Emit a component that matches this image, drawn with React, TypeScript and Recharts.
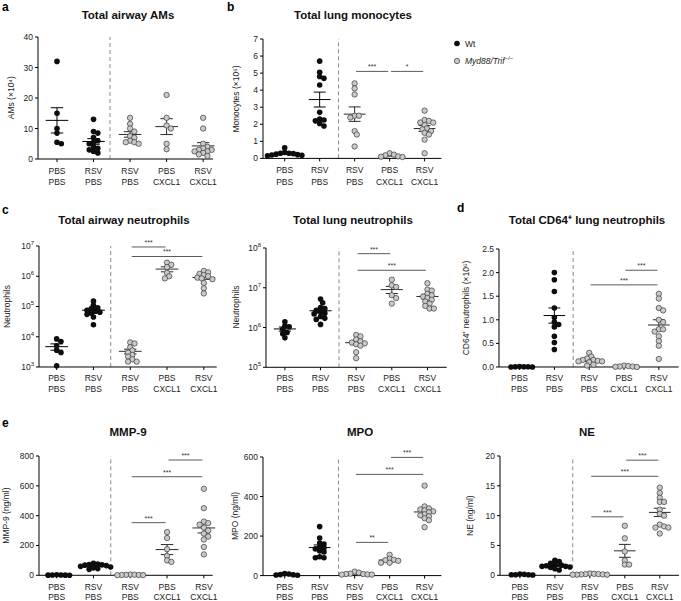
import React from 'react'
import { ScatterChart, Scatter, XAxis, YAxis, ReferenceLine } from 'recharts'

// x categories (two-line labels)
const treatmentTop = ['PBS', 'RSV', 'RSV', 'PBS', 'RSV']
const treatmentBottom = ['PBS', 'PBS', 'PBS', 'CXCL1', 'CXCL1']
// groups 0,1 are Wt, groups 2..4 are Myd88/Trif-/-
const wtCount = 2

const airwayAMs = [
  [32, 15, 10, 8.5, 5.5, 5],
  [13, 9, 8.5, 7, 6, 5.5, 5, 4, 3.5, 3, 2.5, 2],
  [13.5, 11.5, 10, 9, 7.5, 7, 6, 5.5, 5.5, 5],
  [21, 13.5, 11, 10, 5, 3.2],
  [13.5, 10, 5, 4, 3.5, 3, 3, 2.5, 2.5, 2, 1.5, 1],
]
const lungMonocytes = [
  [0.62, 0.35, 0.3, 0.3, 0.28, 0.25, 0.22, 0.2, 0.18, 0.15],
  [5.7, 5.05, 4.8, 4.7, 4.3, 2.7, 2.3, 2.25, 2.2, 2.05, 1.9],
  [4.4, 4.1, 3.75, 2.5, 2.5, 2.4, 1.6, 1.4, 0.7],
  [0.3, 0.22, 0.18, 0.12, 0.1, 0.08],
  [2.8, 2.25, 2.2, 2.1, 2.1, 1.95, 1.75, 1.7, 1.6, 1.5, 1.4, 1.1, 0.3],
]
const airwayNeutrophils = [
  [8500, 7000, 5000, 3600, 3000, 1100],
  [150000, 110000, 90000, 85000, 75000, 70000, 65000, 60000, 55000, 45000, 25000],
  [6500, 6000, 4500, 3500, 3000, 2500, 2200, 1800, 1500, 1500],
  [2.8e6, 2.4e6, 2e6, 1.3e6, 1e6, 0.85e6],
  [1.5e6, 1.35e6, 1.2e6, 1.1e6, 1e6, 0.9e6, 0.85e6, 0.8e6, 0.6e6, 0.4e6, 0.27e6],
]
const lungNeutrophils = [
  [1.4e6, 1.1e6, 1.05e6, 0.9e6, 0.75e6, 0.7e6, 0.55e6],
  [5.2e6, 4.2e6, 3.2e6, 3e6, 2.7e6, 2.5e6, 2.3e6, 2.2e6, 1.9e6, 1.7e6, 1.6e6, 1.2e6],
  [0.65e6, 0.6e6, 0.5e6, 0.45e6, 0.42e6, 0.4e6, 0.38e6, 0.35e6, 0.24e6, 0.17e6],
  [1.6e7, 1.15e7, 1.05e7, 6.5e6, 5.5e6, 4e6],
  [1.3e7, 9e6, 8.5e6, 7e6, 6.5e6, 6e6, 5.5e6, 5e6, 4.5e6, 4e6, 3.5e6, 3e6, 3e6],
]
const cd64Neutrophils = [
  [0.01, 0.005, 0.005, 0.005, 0, 0],
  [2.0, 1.85, 1.6, 1.25, 1.05, 0.95, 0.9, 0.85, 0.65, 0.52, 0.37],
  [0.3, 0.22, 0.18, 0.15, 0.15, 0.13, 0.12, 0.12, 0.1, 0.05, 0.03],
  [0.03, 0.02, 0.01, 0.01, 0.005, 0],
  [1.55, 1.45, 1.25, 1.2, 1.0, 0.95, 0.8, 0.8, 0.75, 0.65, 0.55, 0.45, 0.17],
]
const mmp9 = [
  [3, 2, 2, 1, 1, 0.5],
  [80, 75, 72, 70, 68, 65, 60, 55, 50, 45, 40],
  [5, 4, 3, 2, 2, 1.5, 1],
  [290, 250, 175, 130, 100, 90],
  [580, 450, 360, 350, 340, 320, 300, 280, 260, 240, 190, 140],
]
const mpo = [
  [10, 8, 5, 4, 3, 2],
  [248, 190, 165, 160, 145, 140, 135, 125, 120, 95, 90, 90],
  [20, 15, 10, 8, 8, 6, 5, 5],
  [105, 85, 80, 78, 75, 65, 65],
  [455, 350, 340, 335, 330, 325, 320, 310, 305, 300, 290, 280, 245],
]
const ne = [
  [0.2, 0.15, 0.1, 0.1, 0.1, 0.05],
  [2.5, 2.3, 2.0, 1.8, 1.7, 1.6, 1.5, 1.5, 1.4, 1.3, 1.1, 0.9],
  [0.3, 0.25, 0.2, 0.2, 0.15, 0.15, 0.1, 0.1, 0.1],
  [8.3, 6.2, 4.0, 2.5, 1.8, 1.8],
  [14.7, 13.8, 13.0, 12.3, 12.3, 11.0, 10.3, 10.0, 8.5, 8.2, 8.0, 8.0, 7.0],
]

// significance bars: [from group, to group, y, label]
type Sig = [number, number, number, string]
const sigMonocytes: Sig[] = [[2, 3, 5.1, '***'], [3, 4, 5.1, '*']]
const sigAirwayNeut: Sig[] = [[2, 3, 9.3e6, '***'], [2, 4, 4.5e6, '***']]
const sigLungNeut: Sig[] = [[2, 3, 7.2e7, '***'], [2, 4, 2.75e7, '***']]
const sigCd64: Sig[] = [[3, 4, 2.05, '***'], [2, 4, 1.74, '***']]
const sigMmp9: Sig[] = [[3, 4, 773, '***'], [2, 4, 661, '***'], [2, 3, 353, '***']]
const sigMpo: Sig[] = [[3, 4, 598, '***'], [2, 4, 512, '***'], [2, 3, 168, '**']]
const sigNe: Sig[] = [[3, 4, 19.3, '***'], [2, 4, 16.6, '***'], [2, 3, 9.8, '***']]

const FONT = '"Liberation Sans", Arial, Helvetica, sans-serif'
const GREY_FILL = '#c9c9c9'
const GREY_STROKE = '#3a3a3a'

type PanelCfg = {
  L: number; T: number; R: number; B: number
  xDomain: [number, number]
  yDomain: [number, number]
  yTicks: number[]
  log?: boolean
  fixed?: number
  groups: number[][]
  sig: Sig[]
  divider: number
  lab: [number, number] // baselines of the two category lines below the axis
}

function mean(v: number[]) {
  return v.reduce((a, b) => a + b, 0) / v.length
}
function sem(v: number[]) {
  const m = mean(v)
  const sd = Math.sqrt(v.reduce((a, b) => a + (b - m) * (b - m), 0) / (v.length - 1))
  return sd / Math.sqrt(v.length)
}

// simple beeswarm so points don't stack on top of each other
function swarm(values: number[], toPx: (v: number) => number, pxPerUnit: number, center: number) {
  const d = 3.9
  const order = values.map((_, i) => i).sort((a, b) => values[b] - values[a])
  const placed: { x: number; y: number }[] = []
  const out: { x: number; y: number }[] = new Array(values.length)
  for (const i of order) {
    const py = toPx(values[i])
    let off = 0
    for (let n = 0; n < 60; n++) {
      const o = n === 0 ? 0 : (n % 2 ? 1 : -1) * Math.ceil(n / 2) * d * 0.55
      if (placed.every(p => Math.hypot(p.x - o, p.y - py) >= d)) {
        off = o
        break
      }
    }
    placed.push({ x: off, y: py })
    out[i] = { x: center + off / pxPerUnit, y: values[i] }
  }
  return out
}

const CatTick = (props: any) => {
  const { x, y, payload, lab } = props
  const i = Math.round(payload.value)
  const base = y - 5
  return (
    <g>
      <text x={x} y={base + lab[0]} textAnchor="middle" fontSize={8.5} fill="#222" fontFamily={FONT}>
        {treatmentTop[i]}
      </text>
      <text x={x} y={base + lab[1]} textAnchor="middle" fontSize={8.5} fill="#222" fontFamily={FONT}>
        {treatmentBottom[i]}
      </text>
    </g>
  )
}

const LogTick = (props: any) => {
  const { x, y, payload } = props
  const e = Math.round(Math.log10(payload.value))
  return (
    <text x={x} y={y + 3} textAnchor="end" fontSize={8.5} fill="#222" fontFamily={FONT}>
      10<tspan dy={-4} fontSize={6}>{e}</tspan>
    </text>
  )
}

const YW = 40
const XH = 30
const MT = 14
const MR = 18

function Panel({ cfg }: { cfg: PanelCfg }) {
  const { L, T, R, B, xDomain, yDomain, log } = cfg
  const plotW = R - L
  const plotH = B - T
  const pxPerUnit = plotW / (xDomain[1] - xDomain[0])
  const toPx = (v: number) =>
    log
      ? ((Math.log10(v) - Math.log10(yDomain[0])) / (Math.log10(yDomain[1]) - Math.log10(yDomain[0]))) * plotH
      : ((v - yDomain[0]) / (yDomain[1] - yDomain[0])) * plotH

  const wtPts = cfg.groups.slice(0, wtCount).flatMap((g, i) => swarm(g, toPx, pxPerUnit, i))
  const koPts = cfg.groups.slice(wtCount).flatMap((g, i) => swarm(g, toPx, pxPerUnit, i + wtCount))
  const sigLabels = cfg.sig.map(s => ({ x: (s[0] + s[1]) / 2, y: s[2], label: s[3] }))

  const segs: { key: string; pts: { x: number; y: number }[]; color: string }[] = []
  cfg.groups.forEach((g, i) => {
    const m = mean(g)
    const s = sem(g)
    const color = i < wtCount ? '#000' : '#2a2a2a'
    segs.push({ key: `m${i}`, pts: [{ x: i - 0.31, y: m }, { x: i + 0.31, y: m }], color })
    segs.push({ key: `v${i}`, pts: [{ x: i, y: m - s }, { x: i, y: m + s }], color })
    segs.push({ key: `t${i}`, pts: [{ x: i - 0.17, y: m + s }, { x: i + 0.17, y: m + s }], color })
    segs.push({ key: `b${i}`, pts: [{ x: i - 0.17, y: m - s }, { x: i + 0.17, y: m - s }], color })
  })

  return (
    <div style={{ position: 'absolute', left: L - YW, top: T - MT }}>
      <ScatterChart
        width={plotW + YW + MR}
        height={plotH + MT + XH}
        margin={{ top: MT, right: MR, bottom: 0, left: 0 }}
      >
        <XAxis
          type="number"
          dataKey="x"
          domain={xDomain}
          ticks={[0, 1, 2, 3, 4]}
          interval={0}
          tick={<CatTick lab={cfg.lab} />}
          tickSize={3}
          height={XH}
          axisLine={{ stroke: '#000' }}
          tickLine={{ stroke: '#000' }}
        />
        <YAxis
          type="number"
          dataKey="y"
          domain={yDomain}
          ticks={cfg.yTicks}
          interval={0}
          scale={log ? 'log' : 'linear'}
          width={YW}
          tickSize={3}
          tick={log ? <LogTick /> : { fontSize: 8.5, fill: '#222', fontFamily: FONT }}
          tickFormatter={(v: number) => (cfg.fixed ? v.toFixed(cfg.fixed) : String(v))}
          axisLine={{ stroke: '#000' }}
          tickLine={{ stroke: '#000' }}
        />
        <ReferenceLine x={cfg.divider} stroke="#8a8a8a" strokeDasharray="4 3" />
        {cfg.sig.map((s, i) => (
          <ReferenceLine
            key={`sig${i}`}
            segment={[{ x: s[0] + 0.04, y: s[2] }, { x: s[1] - 0.04, y: s[2] }]}
            stroke="#5a5a5a"
            strokeWidth={1}
            ifOverflow="visible"
          />
        ))}
        <Scatter
          data={koPts}
          isAnimationActive={false}
          shape={(p: any) => (
            <circle cx={p.cx} cy={p.cy} r={2.7} fill={GREY_FILL} stroke={GREY_STROKE} strokeWidth={0.7} />
          )}
        />
        <Scatter
          data={wtPts}
          isAnimationActive={false}
          shape={(p: any) => <circle cx={p.cx} cy={p.cy} r={2.8} fill="#0d0d0d" />}
        />
        {segs.map(s => (
          <ReferenceLine key={s.key} segment={s.pts} stroke={s.color} strokeWidth={1} ifOverflow="visible" />
        ))}
        <Scatter
          data={sigLabels}
          isAnimationActive={false}
          shape={(p: any) => (
            <text x={p.cx} y={p.cy - 2} textAnchor="middle" fontSize={7} fill="#333" fontFamily={FONT}>
              {p.payload.label}
            </text>
          )}
        />
      </ScatterChart>
    </div>
  )
}

const topLab: [number, number] = [14.8, 26.3]
const midLab: [number, number] = [13.6, 24.6]
const botLab: [number, number] = [14.5, 24.4]

const panels: PanelCfg[] = [
  { L: 38, T: 36.7, R: 213, B: 158.7, xDomain: [-0.52, 4.27], yDomain: [0, 40], yTicks: [0, 10, 20, 30, 40], groups: airwayAMs, sig: [], divider: 1.45, lab: topLab },
  { L: 263.3, T: 39.3, R: 441.7, B: 158.7, xDomain: [-0.62, 4.48], yDomain: [0, 7], yTicks: [0, 1, 2, 3, 4, 5, 6, 7], groups: lungMonocytes, sig: sigMonocytes, divider: 1.54, lab: topLab },
  { L: 39.3, T: 246, R: 217, B: 367, xDomain: [-0.48, 4.35], yDomain: [1e3, 1e7], yTicks: [1e3, 1e4, 1e5, 1e6, 1e7], log: true, groups: airwayNeutrophils, sig: sigAirwayNeut, divider: 1.47, lab: midLab },
  { L: 266, T: 247.7, R: 446.7, B: 367, xDomain: [-0.53, 4.54], yDomain: [1e5, 1e8], yTicks: [1e5, 1e6, 1e7, 1e8], log: true, groups: lungNeutrophils, sig: sigLungNeut, divider: 1.52, lab: midLab },
  { L: 499.3, T: 249, R: 679, B: 367, xDomain: [-0.59, 4.57], yDomain: [0, 2.5], yTicks: [0, 0.5, 1, 1.5, 2, 2.5], fixed: 1, groups: cd64Neutrophils, sig: sigCd64, divider: 1.54, lab: midLab },
  { L: 39.3, T: 456, R: 213, B: 575.3, xDomain: [-0.48, 4.24], yDomain: [0, 800], yTicks: [0, 200, 400, 600, 800], groups: mmp9, sig: sigMmp9, divider: 1.47, lab: botLab },
  { L: 263.3, T: 456.7, R: 441.7, B: 575.3, xDomain: [-0.62, 4.48], yDomain: [0, 600], yTicks: [0, 200, 400, 600], groups: mpo, sig: sigMpo, divider: 1.54, lab: botLab },
  { L: 500, T: 456, R: 679, B: 575.3, xDomain: [-0.57, 4.55], yDomain: [0, 20], yTicks: [0, 5, 10, 15, 20], groups: ne, sig: sigNe, divider: 1.51, lab: botLab },
]

const titles = [
  { text: 'Total airway AMs', x: 128, y: 19 },
  { text: 'Total lung monocytes', x: 353, y: 19 },
  { text: 'Total airway neutrophils', x: 124, y: 224 },
  { text: 'Total lung neutrophils', x: 353, y: 224 },
  { text: 'Total CD64\u207A lung neutrophils', x: 587, y: 224 },
  { text: 'MMP-9', x: 128, y: 436 },
  { text: 'MPO', x: 360, y: 436 },
  { text: 'NE', x: 587, y: 436 },
]
const letters = [
  { text: 'a', x: 2, y: 11 },
  { text: 'b', x: 227, y: 11 },
  { text: 'c', x: 2, y: 214 },
  { text: 'd', x: 457, y: 212 },
  { text: 'e', x: 2, y: 427 },
]
const yLabels = [
  { text: 'AMs (\u00D710\u2074)', x: 11, y: 97.7 },
  { text: 'Monocytes (\u00D710\u2076)', x: 236, y: 99 },
  { text: 'Neutrophils', x: 7, y: 306.5 },
  { text: 'Neutrophils', x: 236, y: 307 },
  { text: 'CD64\u207A neutrophils (\u00D710\u2076)', x: 466, y: 308 },
  { text: 'MMP-9 (ng/ml)', x: 6, y: 515.6 },
  { text: 'MPO (ng/ml)', x: 235, y: 516 },
  { text: 'NE (ng/ml)', x: 470, y: 515.6 },
]

export default function App() {
  return (
    <div style={{ position: 'absolute', left: 0, top: 0, width: 681, height: 601, overflow: 'hidden', background: '#fff' }}>
      {panels.map((p, i) => (
        <Panel key={i} cfg={p} />
      ))}
      <svg width={681} height={601} style={{ position: 'absolute', left: 0, top: 0, pointerEvents: 'none' }} fontFamily={FONT}>
        {titles.map(t => (
          <text key={t.text} x={t.x} y={t.y} textAnchor="middle" fontSize={11.5} fontWeight="bold" fill="#111">
            {t.text}
          </text>
        ))}
        {letters.map(t => (
          <text key={t.text} x={t.x} y={t.y} fontSize={12} fontWeight="bold" fill="#000">
            {t.text}
          </text>
        ))}
        {yLabels.map((t, i) => (
          <text
            key={i}
            x={t.x}
            y={t.y}
            transform={`rotate(-90 ${t.x} ${t.y})`}
            textAnchor="middle"
            dominantBaseline="central"
            fontSize={8.5}
            fill="#222"
          >
            {t.text}
          </text>
        ))}
        <circle cx={457} cy={43.5} r={2.8} fill="#0d0d0d" />
        <text x={465} y={46.5} fontSize={8.5} fill="#222">Wt</text>
        <circle cx={457} cy={61} r={2.7} fill={GREY_FILL} stroke={GREY_STROKE} strokeWidth={0.7} />
        <text x={465} y={64} fontSize={8.5} fill="#222" fontStyle="italic">
          Myd88/Trif<tspan dy={-4} fontSize={6} fontStyle="normal">{'\u2212/\u2212'}</tspan>
        </text>
      </svg>
    </div>
  )
}
